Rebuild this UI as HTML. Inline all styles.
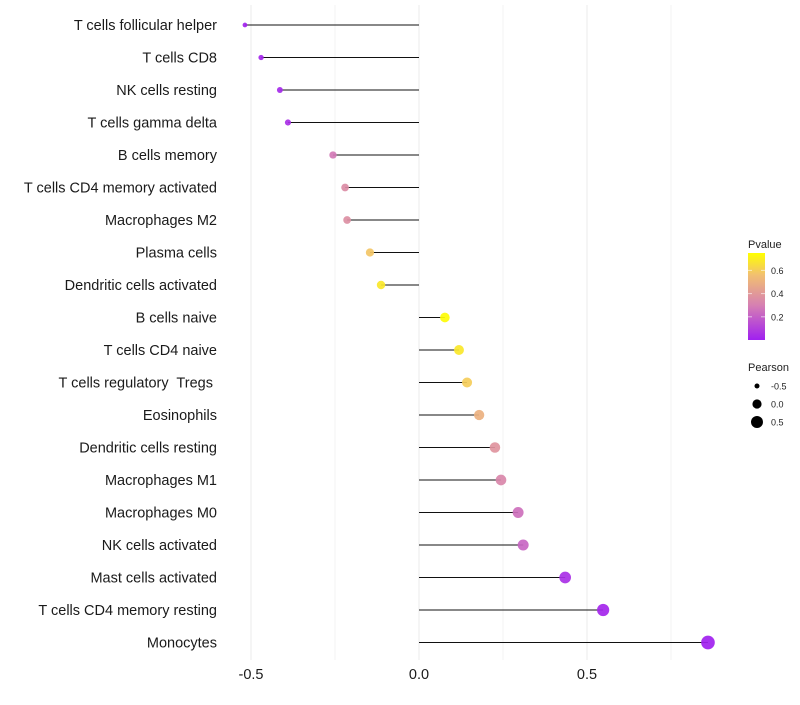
<!DOCTYPE html>
<html><head><meta charset="utf-8"><style>
body{margin:0;background:#fff;}
svg text{font-family:"Liberation Sans",sans-serif;white-space:pre;}
</style></head><body>
<svg id="chart" width="800" height="700"></svg>
<script>
const categories=["T cells follicular helper","T cells CD8","NK cells resting","T cells gamma delta","B cells memory","T cells CD4 memory activated","Macrophages M2","Plasma cells","Dendritic cells activated","B cells naive","T cells CD4 naive","T cells regulatory  Tregs ","Eosinophils","Dendritic cells resting","Macrophages M1","Macrophages M0","NK cells activated","Mast cells activated","T cells CD4 memory resting","Monocytes"];
const pearson=[-0.518,-0.470,-0.414,-0.390,-0.256,-0.220,-0.214,-0.146,-0.113,0.077,0.119,0.143,0.179,0.226,0.244,0.295,0.310,0.435,0.548,0.860];
const pvalue=[0.01,0.02,0.03,0.05,0.28,0.35,0.36,0.58,0.68,0.74,0.68,0.6,0.5,0.38,0.33,0.25,0.22,0.05,0.02,0.003];
const xTicks=[-0.5,0,0.5];
const xTickLabels=["-0.5","0.0","0.5"];
const legendP=[0.2,0.4,0.6];
const legendSize=[-0.5,0,0.5];

const NS="http://www.w3.org/2000/svg";
const svg=document.getElementById('chart');
function el(t,a,p){const e=document.createElementNS(NS,t);for(const k in a)e.setAttribute(k,a[k]);(p||svg).appendChild(e);return e;}
const x=v=>419+v*336;
const y=i=>25+i*32.5;
const pMin=0,pMax=0.75;
const stops=[[0,[160,32,240]],[0.4,[214,128,178]],[0.75,[242,192,112]],[1,[255,255,0]]];
function col(p){let t=Math.max(0,Math.min(1,(p-pMin)/(pMax-pMin)));for(let i=1;i<stops.length;i++){if(t<=stops[i][0]){const a=stops[i-1],b=stops[i],f=(t-a[0])/(b[0]-a[0]);const c=a[1].map((v,j)=>Math.round(v+(b[1][j]-v)*f));return `rgb(${c})`;}}return 'rgb(255,255,0)';}
const rad=v=>Math.sqrt(Math.max(2,21.1+29.75*v));

[-0.5,-0.25,0,0.25,0.5,0.75].forEach(g=>{
const l=el('line',{x1:x(g),x2:x(g),y1:5,y2:660,stroke:g%0.5===0?'#ebebeb':'#f3f3f3','stroke-width':1});


});
categories.forEach((c,i)=>{
const ln=el('line',{x1:x(0),x2:x(pearson[i]),y1:y(i),y2:y(i),stroke:'#111','stroke-width':1.1});


const pt=el('circle',{cx:x(pearson[i]),cy:y(i),r:rad(pearson[i]),fill:col(pvalue[i]),'fill-opacity':0.92});


const t=el('text',{x:217,y:y(i)+5,'text-anchor':'end','font-size':14.5,fill:'#1a1a1a'});
t.textContent=c;


});
xTicks.forEach((v,i)=>{
const t=el('text',{x:x(v),y:679,'text-anchor':'middle','font-size':14.5,fill:'#1a1a1a'});
t.textContent=xTickLabels[i];


});
const lt=el('text',{x:748,y:248,'font-size':11,fill:'#222'});lt.textContent='Pvalue';


const defs=el('defs',{});
const gr=el('linearGradient',{id:'pg',x1:0,y1:1,x2:0,y2:0},defs);
stops.forEach(s=>el('stop',{offset:s[0],'stop-color':`rgb(${s[1]})`},gr));
const py=p=>340-(p-pMin)/(pMax-pMin)*87;
const cb=el('rect',{x:748,y:253,width:17,height:87,fill:'url(#pg)'});


legendP.forEach(p=>{
el('line',{x1:748,x2:752,y1:py(p),y2:py(p),stroke:'#fff','stroke-opacity':0.6});
el('line',{x1:761,x2:765,y1:py(p),y2:py(p),stroke:'#fff','stroke-opacity':0.6});
const t=el('text',{x:771,y:py(p)+3.5,'font-size':9,fill:'#222'});t.textContent=p.toFixed(1);


});
const st=el('text',{x:748,y:371,'font-size':11,fill:'#222'});st.textContent='Pearson';


legendSize.forEach((v,i)=>{
const cy=386+i*18;
const c=el('circle',{cx:757,cy:cy,r:rad(v),fill:'#000'});


const t=el('text',{x:771,y:cy+3.5,'font-size':9,fill:'#222'});t.textContent=v.toFixed(1);


});
</script>
</body></html>
